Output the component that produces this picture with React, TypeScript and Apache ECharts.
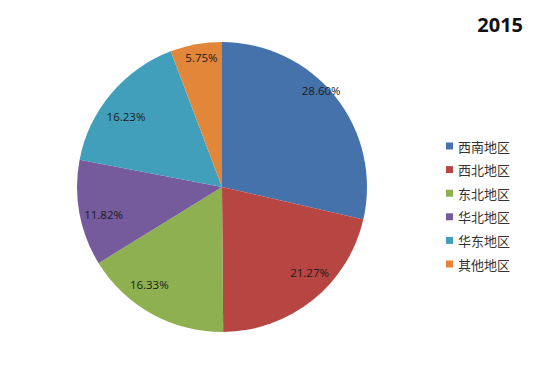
import React, { useEffect, useRef } from "react";
import * as echarts from "echarts";

const regions = ["西南地区", "西北地区", "东北地区", "华北地区", "华东地区", "其他地区"];
const shares = [28.6, 21.27, 16.33, 11.82, 16.23, 5.75];
const yearTitle = "2015";

export default function App() {
  const ref = useRef<HTMLDivElement>(null);
  useEffect(() => {
    const colors = ["#4672AC", "#B74642", "#8FB050", "#755B9B", "#429FBB", "#E2863A"];
    // small label nudges imitating the spreadsheet's "best fit" placement
    const labelNudge = [
      [1, -18],
      [9, -12],
      [-12, -12],
      [5, 5],
      [0, 10],
      [2, -6],
    ];
    const chart = echarts.init(ref.current!, undefined, { renderer: "svg" });
    const data = regions.map((name, i) => ({
      name,
      value: shares[i],
      itemStyle: { color: colors[i] },
    }));
    chart.setOption({
      animation: false,
      backgroundColor: "#ffffff",
      title: {
        text: yearTitle,
        right: 19,
        top: 9,
        textStyle: {
          fontFamily: "Open Sans",
          fontWeight: "bold",
          fontSize: 20,
          color: "#111",
        },
      },
      legend: {
        orient: "vertical",
        left: 441,
        top: 134,
        itemWidth: 7,
        itemHeight: 7,
        itemGap: 9.6,
        icon: "rect",
        data: regions,
        textStyle: {
          fontFamily: "Noto Sans CJK SC",
          fontSize: 13,
          lineHeight: 14,
          color: "#333",
        },
      },
      series: [
        {
          type: "pie",
          center: [222, 187],
          radius: [0, 145],
          startAngle: 90,
          clockwise: true,
          silent: true,
          label: { show: false },
          labelLine: { show: false },
          itemStyle: { borderWidth: 0 },
          data,
        },
        {
          type: "pie",
          center: [222, 187],
          radius: [100, 145],
          startAngle: 90,
          clockwise: true,
          silent: true,
          legendHoverLink: false,
          itemStyle: { color: "rgba(0,0,0,0)", borderWidth: 0 },
          label: {
            show: true,
            position: "inside",
            rotate: 0,
            formatter: (p: any) => p.value.toFixed(2) + "%",
            fontFamily: "Open Sans",
            fontSize: 11.5,
            color: "#1a1a1a",
          },
          labelLine: { show: false },
          data: regions.map((name, i) => ({
            name: name + " ",
            value: shares[i],
            label: { offset: labelNudge[i] },
          })),
        },
      ],
    });
    return () => chart.dispose();
  }, []);
  return (
    <div
      ref={ref}
      style={{ position: "absolute", left: 0, top: 0, width: 547, height: 374 }}
    />
  );
}
